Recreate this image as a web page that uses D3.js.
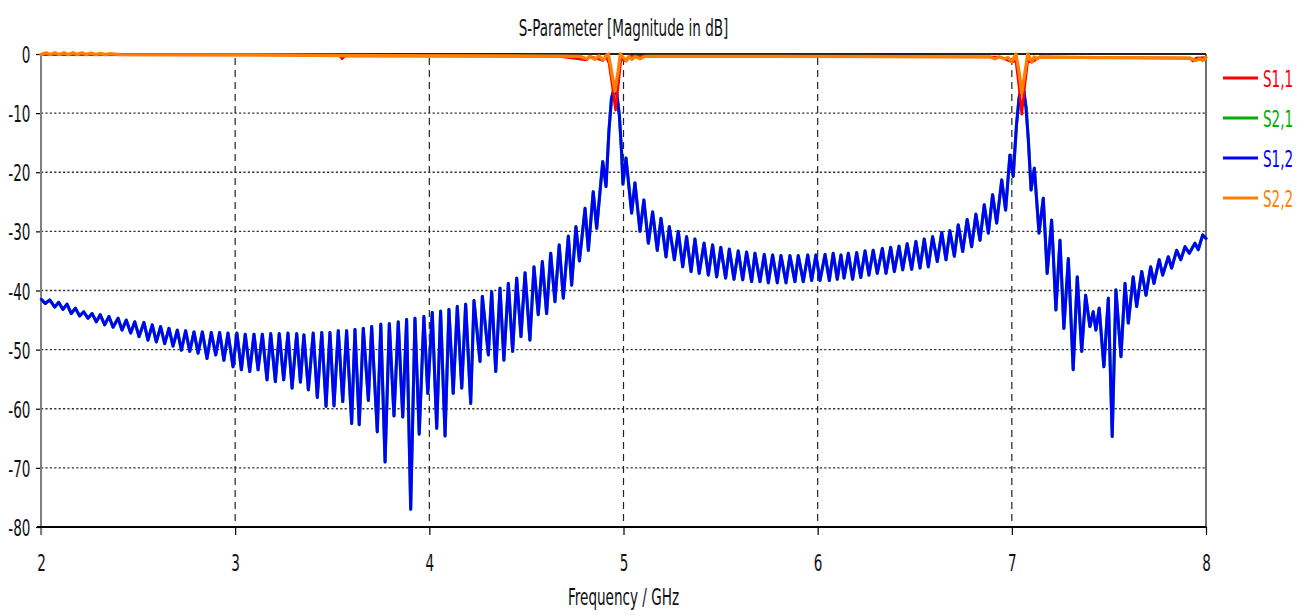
<!DOCTYPE html>
<html><head><meta charset="utf-8">
<script src="https://cdn.jsdelivr.net/npm/d3@7"></script>
<style>body{margin:0;background:#fff}svg{display:block}</style>
</head><body><svg id="c" width="1312" height="616"></svg>
<script>
// ---------------- data ----------------
const xTicks = [2, 3, 4, 5, 6, 7, 8];
const yTicks = [0, -10, -20, -30, -40, -50, -60, -70, -80];
const seriesNames = ["S1,1", "S2,1", "S1,2", "S2,2"];
const titleText = "S-Parameter [Magnitude in dB]";
const xLabel = "Frequency / GHz";

// S1,2 (and S2,1, visually identical) magnitude in dB vs frequency in GHz
const s12Freq = [2.002,2.022,2.045,2.071,2.091,2.113,2.134,2.156,2.177,2.199,2.220,2.242,2.263,2.285,2.305,2.328,2.350,2.371,2.397,2.417,2.439,2.462,2.483,2.505,2.530,2.551,2.573,2.594,2.616,2.637,2.659,2.680,2.702,2.723,2.745,2.766,2.788,2.809,2.831,2.855,2.877,2.900,2.920,2.942,2.963,2.989,3.009,3.032,3.052,3.075,3.097,3.118,3.140,3.164,3.183,3.207,3.227,3.250,3.272,3.293,3.317,3.336,
3.354,3.377,3.402,3.423,3.446,3.468,3.488,3.509,3.531,3.554,3.574,3.600,3.617,3.639,3.660,3.686,3.703,3.732,3.750,3.772,3.794,3.818,3.840,3.863,3.883,3.904,3.926,3.948,3.972,3.992,4.015,4.038,4.058,4.081,4.101,4.123,4.144,4.167,4.187,4.213,4.230,4.261,4.273,4.304,4.321,4.342,4.364,
4.384,4.407,4.429,4.450,4.472,4.493,4.518,4.539,4.561,4.582,4.604,4.625,4.647,4.669,4.690,4.716,4.733,4.755,4.773,
4.802,4.819,4.844,4.862,4.893,4.910,4.925,4.938,4.951,4.966,4.979,4.990,4.997,5.013,5.042,5.059,5.085,5.105,5.128,5.150,5.174,5.193,5.219,5.236,5.262,5.282,5.305,5.325,5.348,5.368,5.390,5.415,5.437,5.459,5.480,5.501,5.526,5.545,5.569,5.591,5.614,5.634,5.660,5.677,5.703,5.725,5.746,5.768,5.792,5.811,5.837,5.857,5.883,5.900,5.926,5.949,5.969,5.991,6.012,6.038,6.060,6.080,6.101,
6.120,6.136,6.158,6.180,6.201,6.222,6.244,6.264,6.286,6.307,6.333,6.352,6.376,6.395,6.419,6.438,6.461,6.484,6.506,6.527,6.549,6.570,6.592,6.616,6.639,6.661,6.681,6.704,6.724,6.747,6.770,6.793,6.815,6.836,6.858,6.879,6.901,6.922,6.948,6.968,6.990,7.007,7.024,7.037,7.051,7.062,7.073,7.085,7.099,7.116,7.140,7.162,7.182,7.205,7.227,7.248,7.268,7.291,7.316,7.337,7.360,7.380,7.402,7.419,7.433,7.450,7.474,7.497,7.517,7.536,7.562,7.583,7.600,7.625,7.643,7.669,7.691,7.715,7.732,7.759,7.777,7.806,7.823,7.849,7.870,7.892,7.914,7.943,7.960,7.983,8.000];
const s12Mag = [-41.5,-42.2,-41.6,-42.8,-42.0,-43.2,-42.3,-43.9,-43.0,-44.3,-43.6,-44.7,-43.9,-45.3,-44.1,-45.8,-44.4,-46.2,-44.7,-46.7,-45.0,-47.2,-45.3,-47.8,-45.4,-48.4,-45.8,-48.7,-46.1,-49.0,-46.4,-49.4,-46.7,-50.1,-46.8,-50.3,-47.0,-50.6,-47.0,-51.5,-47.1,-50.9,-47.1,-51.8,-47.2,-52.9,-47.2,-53.4,-47.4,-53.7,-47.4,-53.4,-47.4,-55.1,-47.3,-55.4,-47.3,-55.1,-47.2,-56.5,-47.3,-55.5,
-47.5,-56.8,-47.2,-58.1,-47.1,-59.6,-47.1,-59.5,-46.8,-58.8,-46.8,-62.5,-46.6,-62.7,-46.4,-58.6,-46.1,-63.9,-45.7,-69.0,-45.6,-61.2,-45.3,-61.4,-44.9,-77.0,-44.7,-64.3,-44.4,-57.4,-43.7,-63.3,-43.5,-64.6,-43.2,-57.4,-42.7,-56.5,-42.3,-59.1,-41.7,-52.0,-41.0,-50.9,-40.2,-53.7,-39.6,
-51.8,-38.8,-50.3,-37.9,-47.8,-37.0,-48.4,-36.0,-44.1,-35.1,-43.9,-33.7,-41.9,-32.3,-41.3,-30.8,-39.1,-29.2,-35.0,
-26.1,-33.2,-23.3,-29.5,-18.2,-22.4,-13.0,-7.5,-5.9,-6.8,-10.5,-16.5,-22.0,-17.6,-26.9,-21.8,-30.0,-24.7,-32.0,-26.7,-33.2,-27.8,-34.3,-29.2,-34.8,-30.0,-36.0,-30.9,-36.8,-31.3,-37.1,-32.0,-37.4,-32.3,-37.7,-32.7,-37.9,-33.0,-38.1,-33.3,-38.2,-33.5,-38.5,-33.7,-38.5,-33.9,-38.7,-34.0,-38.7,-34.1,-38.7,-34.1,-38.5,-34.1,-38.5,-34.0,-38.3,-34.0,-38.3,-33.9,-38.3,-33.7,-38.1,
-34.0,-37.9,-33.7,-38.1,-33.6,-37.8,-33.3,-37.4,-33.2,-37.1,-32.9,-37.1,-32.7,-36.8,-32.5,-36.5,-32.1,-36.4,-31.7,-36.2,-31.3,-36.0,-30.9,-35.1,-30.2,-34.8,-29.9,-34.2,-28.9,-33.4,-28.0,-32.6,-27.1,-31.5,-25.5,-30.3,-23.8,-28.6,-21.3,-26.4,-17.1,-20.7,-12.0,-7.5,-5.3,-6.3,-9.0,-14.5,-23.0,-19.3,-30.3,-24.4,-37.1,-28.1,-43.3,-31.5,-46.4,-34.6,-53.4,-37.7,-50.3,-40.8,-46.1,-43.6,-46.7,-43.0,-52.9,-41.3,-64.7,-39.9,-51.2,-38.8,-45.5,-37.7,-42.7,-36.8,-40.8,-36.0,-38.8,-34.8,-37.4,-34.3,-36.2,-33.2,-34.8,-32.6,-33.7,-32.0,-33.1,-30.6,-31.2];
const s21Freq = s12Freq;
const s21Mag = s12Mag;

// S1,1
const s11Freq = [2.000,3.076,3.540,3.550,3.566,4.673,4.810,4.827,4.894,4.910,4.925,4.941,4.959,4.974,4.987,5.013,5.033,5.111,6.938,6.999,7.021,7.037,7.051,7.066,7.082,7.103,7.145,7.454,7.918,7.933,7.948,8.000];
const s11Mag = [-0.1,-0.15,-0.25,-0.8,-0.3,-0.4,-1.0,-0.4,-1.1,-0.4,-1.5,-5.0,-9.5,-5.0,-0.8,-1.2,-0.4,-0.4,-0.5,-1.3,-1.2,-5.5,-10.2,-5.5,-1.2,-1.4,-0.5,-0.6,-0.7,-1.2,-0.7,-0.6];

// S2,2
const s22Freq = [2.000,2.026,2.046,2.072,2.093,2.118,2.139,2.165,2.185,2.211,2.232,2.258,2.283,2.304,2.330,2.355,2.407,3.076,3.540,3.849,4.673,4.776,4.810,4.827,4.853,4.874,4.894,4.910,4.922,4.936,4.956,4.972,4.984,4.997,5.013,5.028,5.044,5.059,5.085,5.111,5.394,6.424,6.887,6.912,6.938,6.964,6.980,6.999,7.021,7.037,7.051,7.066,7.082,7.103,7.115,7.128,7.145,7.454,7.918,7.948,7.969,7.984,8.000];
const s22Mag = [-0.1,0.2,-0.1,0.2,-0.1,0.2,-0.1,0.2,-0.1,0.2,-0.1,0.15,-0.1,0.1,-0.1,0.05,-0.1,-0.15,-0.25,-0.3,-0.35,-0.4,-0.8,-0.4,-0.9,-0.3,-1.0,-0.3,0.0,-2.5,-6.3,-3.0,0.0,-0.5,-1.1,-0.4,-0.9,-0.4,-0.8,-0.4,-0.4,-0.45,-0.5,-0.8,-0.5,-0.8,-0.6,-1.3,0.0,-3.0,-6.6,-3.5,0.0,-1.3,-0.5,-0.8,-0.5,-0.6,-0.7,-1.1,-0.8,-1.1,-0.6];

// ---------------- chart ----------------
const W = 1312, H = 616;
const L = 41, R = 1206, T = 54, B = 527;
const FONT = "DejaVu Sans", FS = 23, SX = 0.59;
const colors = {"S1,1": "#ff0000", "S2,1": "#00b000", "S1,2": "#0000ff", "S2,2": "#ff8000"};

const svg = d3.select("#c");
svg.append("rect").attr("width", W).attr("height", H).attr("fill", "#fff");

const x = d3.scaleLinear().domain([2, 8]).range([L, R]);
const y = d3.scaleLinear().domain([-80, 0]).range([B, T]);

// grid
svg.append("g").selectAll("line")
  .data(yTicks.filter(d => d !== 0 && d !== -80)).join("line")
  .attr("x1", L).attr("x2", R).attr("y1", d => y(d)).attr("y2", d => y(d))
  .attr("stroke", "#333").attr("stroke-width", 1.4).attr("stroke-dasharray", "2.2,2.2");
svg.append("g").selectAll("line")
  .data(xTicks.filter(d => d !== 2 && d !== 8)).join("line")
  .attr("x1", d => x(d)).attr("x2", d => x(d)).attr("y1", T + 4).attr("y2", B)
  .attr("stroke", "#222").attr("stroke-width", 1.2).attr("stroke-dasharray", "7,5");

// axes
const gx = svg.append("g").attr("transform", `translate(0,${B})`)
  .call(d3.axisBottom(x).tickValues(xTicks).tickSize(8).tickSizeOuter(0).tickFormat(d => String(d)));
gx.select(".domain").remove();
gx.selectAll(".tick line").attr("stroke", "#000").attr("stroke-width", 1.2);
gx.selectAll(".tick text")
  .attr("font-family", FONT).attr("font-size", FS).attr("fill", "#111")
  .attr("y", 0).attr("dy", 0).attr("dominant-baseline", "central")
  .attr("transform", `translate(0,35) scale(${SX},1)`);

const gy = svg.append("g").attr("transform", `translate(${L},0)`)
  .call(d3.axisLeft(y).tickValues(yTicks).tickSize(5).tickSizeOuter(0).tickFormat(d => String(d)));
gy.select(".domain").remove();
gy.selectAll(".tick line").attr("stroke", "#000").attr("stroke-width", 1.2);
gy.selectAll(".tick text")
  .attr("font-family", FONT).attr("font-size", FS).attr("fill", "#111")
  .attr("x", 0).attr("dy", 0).attr("dominant-baseline", "central").attr("text-anchor", "end")
  .attr("transform", `translate(-10.5,0) scale(${SX},1)`);

// frame
svg.append("line").attr("x1", L).attr("x2", L).attr("y1", T).attr("y2", B + 8)
  .attr("stroke", "#808080").attr("stroke-width", 2);
svg.append("line").attr("x1", R).attr("x2", R).attr("y1", T).attr("y2", B)
  .attr("stroke", "#707070").attr("stroke-width", 2);
svg.append("line").attr("x1", L).attr("x2", R).attr("y1", T).attr("y2", T)
  .attr("stroke", "#222").attr("stroke-width", 2);
svg.append("line").attr("x1", L - 4).attr("x2", R).attr("y1", B).attr("y2", B)
  .attr("stroke", "#000").attr("stroke-width", 2);

// curves
const line = d3.line().x(d => x(d[0])).y(d => y(d[1]));
function drawSeries(fr, mg, color, w) {
  svg.append("path").datum(d3.zip(fr, mg)).attr("d", line)
    .attr("fill", "none").attr("stroke", color).attr("stroke-width", w)
    .attr("stroke-linejoin", "round").attr("stroke-linecap", "round");
}
drawSeries(s21Freq, s21Mag, colors["S2,1"], 3.2);
drawSeries(s12Freq, s12Mag, colors["S1,2"], 2.9);
drawSeries(s11Freq, s11Mag, colors["S1,1"], 2.6);
drawSeries(s22Freq, s22Mag, colors["S2,2"], 3.3);

// text helper
function label(px, py, txt, anchor, fill) {
  svg.append("g").attr("transform", `translate(${px},${py}) scale(${SX},1)`)
    .append("text").attr("font-family", FONT).attr("font-size", FS).attr("fill", fill)
    .attr("text-anchor", anchor).attr("dominant-baseline", "central").text(txt);
}
label((L + R) / 2, 27, titleText, "middle", "#111");
label((L + R) / 2, 596, xLabel, "middle", "#111");

// legend
const ly = d3.scalePoint().domain(seriesNames).range([78, 198]);
seriesNames.forEach(n => {
  svg.append("line").attr("x1", 1223).attr("x2", 1258).attr("y1", ly(n)).attr("y2", ly(n))
    .attr("stroke", colors[n]).attr("stroke-width", 3);
  label(1263, ly(n), n, "start", colors[n]);
});
</script></body></html>
